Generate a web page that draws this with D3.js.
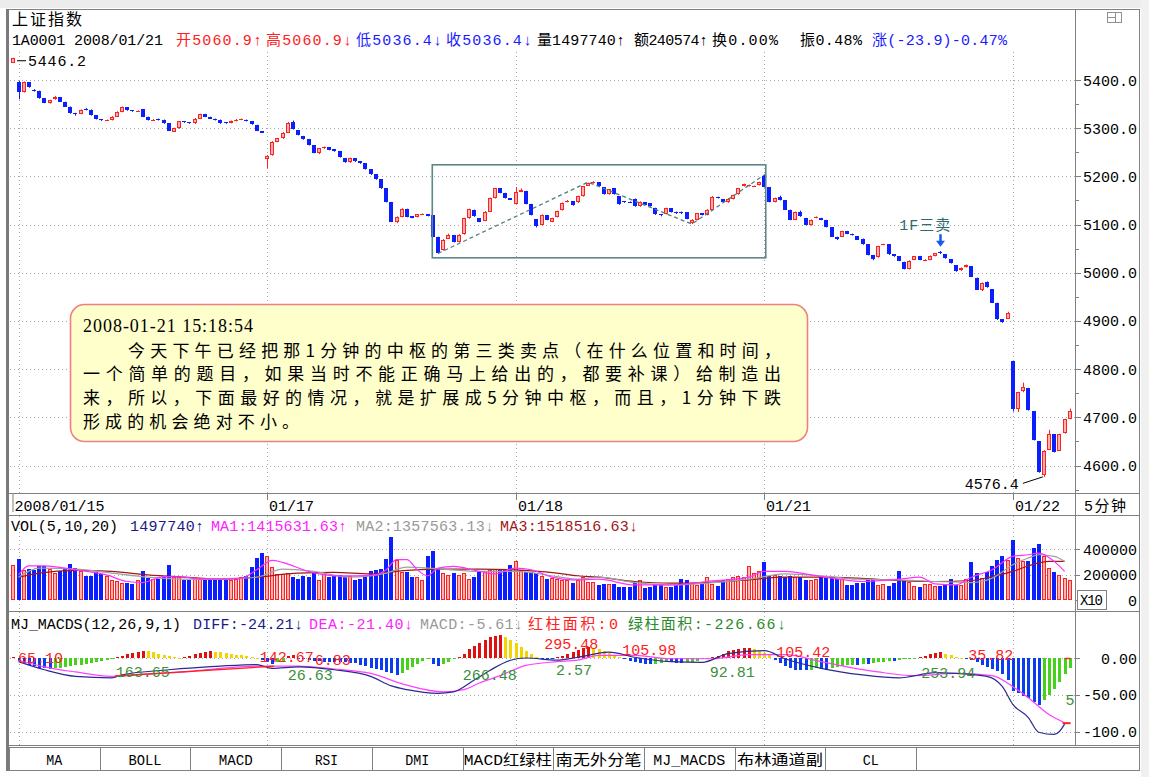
<!DOCTYPE html>
<html>
<head>
<meta charset="utf-8">
<script src="https://cdn.jsdelivr.net/npm/d3@7/dist/d3.min.js"></script>
<style>
html,body{margin:0;padding:0;background:#fff;}
svg{display:block;}
</style>
</head>
<body>
<svg id="chart" width="1149" height="777"></svg>
<script>
// ===================== DATA =====================
const dayLabels = ["2008/01/15","01/17","01/18","01/21","01/22"];
const dayStart  = [0,48,96,144,192];

const open = [
5396,5375,5396,5380,5378,5362,5352,5360,5364,5355,
5345,5332,5330,5340,5338,5327,5319,5316,5317,5324,
5334,5344,5337,5335,5339,5324,5317,5320,5318,5310,
5293,5300,5314,5312,5310,5320,5330,5324,5320,5318,
5313,5311,5315,5318,5318,5315,5307,5294,5236,5244,
5272,5279,5291,5313,5296,5284,5277,5265,5249,5258,
5260,5256,5253,5238,5229,5238,5231,5227,5215,5204,
5194,5175,5147,5106,5116,5133,5117,5116,5121,5121,
5119,5075,5047,5071,5078,5064,5080,5113,5131,5113,
5108,5127,5155,5175,5166,5155,5143,5168,5170,5143,
5111,5099,5120,5106,5116,5130,5147,5148,5146,5159,
5181,5186,5188,5177,5163,5176,5159,5148,5147,5154,
5138,5146,5144,5135,5122,5122,5134,5127,5127,5126,
5103,5110,5124,5120,5130,5158,5153,5146,5153,5163,
5180,5180,5179,5182,5200,5177,5147,5158,5151,5131,
5110,5127,5114,5099,5114,5114,5110,5094,5075,5075,
5087,5081,5076,5071,5059,5037,5032,5058,5059,5038,
5034,5023,5008,5027,5035,5025,5027,5035,5044,5038,
5028,5016,5005,5012,5013,4990,4965,4980,4966,4938,
4903,4905,4816,4718,4754,4761,4713,4650,4580,4633,
4665,4631,4667,4697];
const high = [
5398,5397,5396,5381,5378,5362,5359,5367,5364,5355,
5345,5332,5339,5342,5339,5327,5319,5318,5325,5335,
5345,5344,5337,5337,5339,5324,5319,5320,5318,5310,
5301,5315,5314,5312,5321,5330,5330,5324,5320,5318,
5313,5316,5319,5320,5318,5315,5307,5294,5244,5273,
5280,5292,5313,5316,5296,5284,5277,5265,5259,5262,
5260,5256,5253,5238,5239,5238,5231,5227,5215,5204,
5194,5175,5147,5117,5134,5133,5118,5122,5123,5121,
5119,5075,5070,5081,5078,5080,5114,5133,5131,5113,
5128,5156,5176,5175,5166,5155,5178,5175,5170,5143,
5111,5121,5120,5114,5129,5146,5151,5148,5160,5180,
5187,5190,5188,5177,5174,5176,5159,5148,5148,5154,
5148,5146,5144,5135,5122,5135,5134,5127,5127,5126,
5111,5124,5124,5132,5159,5158,5153,5155,5162,5176,
5185,5183,5181,5189,5204,5177,5156,5160,5151,5131,
5127,5129,5114,5111,5117,5114,5110,5094,5075,5087,
5087,5081,5076,5071,5059,5037,5056,5060,5059,5038,
5034,5023,5026,5035,5035,5028,5036,5041,5045,5038,
5028,5016,5011,5017,5013,4990,4980,4982,4966,4938,
4903,4919,4816,4753,4772,4761,4713,4650,4632,4674,
4665,4666,4697,4718];
const low = [
5360,5374,5384,5376,5361,5352,5351,5359,5355,5344,
5330,5326,5329,5337,5326,5318,5315,5315,5316,5323,
5333,5336,5334,5334,5323,5316,5316,5316,5309,5294,
5292,5299,5311,5309,5309,5319,5323,5319,5316,5309,
5309,5310,5314,5317,5314,5307,5294,5290,5217,5243,
5271,5278,5290,5297,5285,5276,5264,5248,5246,5257,
5254,5251,5239,5228,5228,5230,5226,5214,5203,5193,
5174,5146,5105,5103,5115,5115,5113,5115,5120,5117,
5074,5039,5046,5070,5063,5063,5079,5112,5116,5105,
5107,5126,5154,5165,5154,5151,5142,5167,5142,5119,
5094,5098,5109,5105,5115,5129,5146,5139,5145,5158,
5180,5185,5179,5162,5162,5162,5141,5145,5145,5137,
5137,5140,5137,5120,5117,5121,5125,5122,5122,5111,
5101,5109,5119,5119,5129,5154,5145,5145,5152,5162,
5179,5179,5178,5181,5177,5146,5146,5150,5130,5109,
5109,5116,5098,5098,5113,5109,5094,5074,5068,5074,
5080,5077,5068,5058,5036,5026,5031,5057,5037,5033,
5024,5007,5007,5026,5026,5024,5026,5034,5039,5029,
5019,5002,5004,5011,4991,4964,4962,4969,4937,4902,
4896,4904,4712,4711,4752,4714,4652,4585,4576.4,4632,
4627,4630,4666,4696];
const close = [
5375,5396,5385,5377,5362,5353,5358,5365,5355,5345,
5331,5330,5338,5338,5327,5319,5316,5317,5324,5334,
5344,5337,5335,5336,5324,5317,5318,5317,5310,5295,
5300,5314,5312,5310,5320,5329,5324,5320,5317,5310,
5310,5315,5318,5319,5315,5308,5295,5291,5242,5272,
5279,5291,5311,5298,5286,5277,5265,5249,5258,5261,
5255,5252,5240,5229,5238,5231,5227,5215,5204,5194,
5175,5147,5106,5116,5133,5116,5114,5121,5122,5118,
5075,5040,5069,5078,5064,5079,5113,5132,5117,5106,
5127,5155,5175,5166,5155,5152,5168,5172,5143,5120,
5096,5120,5110,5113,5128,5145,5149,5140,5159,5179,
5186,5188,5180,5163,5173,5163,5142,5146,5146,5138,
5147,5141,5138,5121,5119,5134,5126,5123,5123,5112,
5110,5123,5120,5131,5158,5155,5146,5154,5161,5175,
5184,5182,5180,5188,5178,5147,5155,5151,5131,5110,
5126,5117,5099,5110,5116,5110,5095,5075,5071,5086,
5081,5078,5069,5059,5037,5028,5055,5059,5038,5034,
5025,5008,5025,5034,5027,5027,5035,5040,5040,5030,
5020,5003,5010,5016,4992,4965,4979,4970,4938,4903,
4898,4917,4718,4752,4763,4715,4653,4586,4631,4665,
4628,4665,4696,4713];

// volume in thousands (axis shows raw, X10)
const volume = [
324,237,245,232,268,263,242,211,224,250,
284,250,224,190,192,216,205,190,158,150,
137,132,124,158,224,171,163,163,179,276,
184,179,153,153,171,163,153,153,153,153,
153,153,163,184,190,258,329,368,347,258,
205,205,211,179,163,190,179,211,153,205,
184,190,197,190,190,153,163,190,224,237,
242,324,492,311,216,216,179,179,158,342,
387,250,211,197,211,197,211,163,184,216,
229,237,242,242,242,276,308,237,216,216,
211,190,163,171,163,158,158,132,158,179,
145,145,118,124,126,126,105,100,105,130,
158,92,100,126,124,100,100,118,163,153,
130,118,126,179,126,110,153,163,179,190,
184,263,211,230,295,190,197,190,179,190,
179,179,158,153,165,179,171,179,163,163,
118,118,132,137,153,158,118,126,110,132,
224,158,140,110,105,126,126,110,110,118,
163,118,118,163,295,211,171,220,263,311,
342,311,468,329,303,303,408,442,342,250,
216,197,171,160];

// bar just before the first full day (only partly visible)
const prevOpen = 5436, prevClose = 5446.2, prevVolume = 276, prevMacd = 1;

// volume moving averages (sampled points: bar index / value in thousands)
const ma1K = [0,2,5,11,17,21,24,28,32,36,43,46,49,51,56,61,65,69,71,73,75,77,79,81,84,89,92,96,99,103,107,112,119,126,133,141,144,148,155,163,170,174,177,181,184,188,192,195,197,200,202];
const ma1V = [197,268,268,237,197,145,137,184,179,163,171,237,311,295,224,190,190,197,237,316,316,237,190,250,263,224,205,250,237,179,158,163,118,118,145,179,224,224,184,145,163,179,126,118,179,237,342,355,368,303,224];
const ma2K = [0,4,11,18,25,32,39,46,51,57,64,71,75,82,89,96,104,108,112,119,126,133,141,148,155,162,170,177,184,188,192,195,197,200,202];
const ma2V = [179,250,242,211,179,163,163,179,242,224,179,211,258,242,224,224,184,163,179,137,118,132,163,205,190,163,158,145,137,171,276,329,355,342,303];
const ma3K = [0,4,11,18,25,32,39,46,54,61,68,75,82,89,96,104,108,112,119,126,133,141,148,155,162,170,177,184,188,192,195,199,202];
const ma3V = [179,211,232,224,197,179,163,179,211,216,205,232,242,242,237,211,190,179,145,132,137,158,179,179,171,153,145,153,184,224,268,303,303];

// MJ_MACDS histogram
const macdHist = [
-4,-7,-9,-11,-13,-14,-15,-14,-13,-12,
-11,-10,-9,-8,-7,-6,-4.5,-3,-1.5,1,
3,5,7,8.5,9.5,9,7.5,6,4.5,3,
1.5,0.5,1.5,3,5,7,8.5,9,8.5,7.5,
6.5,5.5,4.5,3.5,2.5,1.5,0.5,-3,-6,-8,
-6,-3.5,3,3.8,-1,-2,-3,-4,-4.5,-5,
-5,-5.5,-6,-6,-6.5,-7,-9,-11,-13,-15,
-17,-19,-21,-23,-20,-16,-12,-8,-4,-2,
-8,-11,-8,-5,-2,2,6,12,16,20,
25,28,30,31,28,24,20,15,10,5,
2,-0.5,-1,-1,1,3,5,8,11,13,
15,14,12,10,7,4,2,-2,-4,-6,
-7,-8,-8,-7.5,-7,-6,-6,-7,-7,-6,
-5,-3.5,-2,-1,1,3,6,9,11,12,
13,13,12,10,7,4,-3,-7,-11,-14,
-16,-17,-17,-16,-14,-15,-16,-14,-12,-11,
-10,-9,-9,-8,-8,-7,-6,-5,-4,-4,
-3,-2,-1.5,-0.5,1,3,5,7,7.5,6,
4,2,0.5,-1,-3,-6,-9,-12,-15,-18,
-22,-30,-45,-48,-52,-55,-60,-64,-57,-50,
-42,-32,-22,-14];
const diffK = [0,5,11,18,20,29,39,46,49,54,61,68,72,75,81,84,88,91,95,98,104,108,114,119,126,132,137,144,148,155,163,170,177,181,187,190,192,195,197,200,201,202];
const diffV = [-5,-16,-25,-27,-23,-16,-11,-9,-14,-12,-16,-25,-38,-43,-48,-46,-30,-17,-3,0,-3,1,8,1,-5,-6,6,10,-1,-14,-23,-27,-20,-21,-25,-39,-63,-81,-101,-104,-100,-90];
const deaK = [0,5,11,18,25,32,39,46,54,61,68,75,82,86,89,93,98,104,108,112,119,126,134,141,148,155,160,166,173,181,188,192,195,199,202];
const deaV = [-3,-12,-19,-25,-22,-19,-14,-11,-11,-15,-21,-37,-46,-43,-34,-24,-10,-5,-3,3.5,3.5,-1,-1,4.5,4.5,-5,-12,-19,-24,-21,-24,-39,-54,-77,-88];
const redLineK = [18.6,49.3], redLineV = [-24.5,-11.2];

// MACD area labels
const areaText  = ["65.10","163.65","142.67","6.83","26.63","266.48","295.48","2.57","105.98","92.81","105.42","253.94","35.82","5"];
const areaK     = [-0.1,18.8,46.6,57.2,52,85.8,101.5,103.8,116.6,133.5,146.3,174.3,183.4,202.2];
const areaV     = [0.7,-19,1.4,-1.4,-23,-23,20.4,-16.3,12.2,-19,9.5,-20.4,5.4,-55.8];
const areaIsRed = [1,0,1,1,0,0,1,0,1,0,1,0,1,0];

// stroke (笔) points in the box
const strokeK = [81,110,130,144];
const strokeP = [5040,5188,5101,5203];
const boxK = [79.9,144.3], boxP = [5031,5224];

const priceTicks = [4600,4700,4800,4900,5000,5100,5200,5300,5400];
const volTicks = [0,200,400], volTickLabels = ["0","200000","400000"];
const macdTicks = [0,-50,-100], macdTickLabels = ["0.00","-50.00","-100.0"];
const tabLabels = ["MA","BOLL","MACD","RSI","DMI","MACD红绿柱","南无外分笔","MJ_MACDS","布林通道副","CL"];

// ===================== DRAWING =====================
const MONO = "'Liberation Mono','DejaVu Sans Mono',monospace";
const MIX  = "'Liberation Mono','Noto Sans CJK SC',monospace";
const CJK  = "'Noto Sans CJK SC','Liberation Mono',sans-serif";
const RED = "#ff2020", PINK = "#ffb0b0", BLUE = "#0a1eff", FRAME = "#808080";

const svg = d3.select('#chart');
const x  = d3.scaleLinear().domain([0,192]).range([18.5,1012.8]);
const yP = d3.scaleLinear().domain([4600,5400]).range([465.5,80]);
const yV = d3.scaleLinear().domain([0,400]).range([600,549]);
const yM = d3.scaleLinear().domain([-100,0]).range([731.5,658]);
const xr = i => Math.round(x(i));
const idx = d3.range(open.length);

function txt(g, s, px, py, o = {}) {
  const t = g.append('text').attr('x', px).attr('y', py).text(s)
    .attr('font-family', o.ff || MONO).attr('font-size', o.fs || 15)
    .attr('fill', o.c || '#000');
  if (o.w) t.attr('textLength', o.w).attr('lengthAdjust', o.adj || 'spacing');
  if (o.anchor) t.attr('text-anchor', o.anchor);
  if (o.fw) t.attr('font-weight', o.fw);
  return t;
}
function line(g, x1, y1, x2, y2, c, w = 1, dash = null) {
  const l = g.append('line').attr('x1', x1).attr('y1', y1).attr('x2', x2).attr('y2', y2)
    .attr('stroke', c).attr('stroke-width', w);
  if (dash) l.attr('stroke-dasharray', dash);
  return l;
}

// background
svg.append('rect').attr('width',1149).attr('height',777).attr('fill','#fff');
svg.append('rect').attr('x',0).attr('y',0).attr('width',1149).attr('height',8).attr('fill','#ececec');
svg.append('rect').attr('x',1141).attr('y',0).attr('width',8).attr('height',777).attr('fill','#f0f0f0');

const defs = svg.append('defs');
defs.append('clipPath').attr('id','cpP').append('rect').attr('x',10).attr('y',10).attr('width',1065).attr('height',483);
defs.append('clipPath').attr('id','cpV').append('rect').attr('x',10).attr('y',516).attr('width',1065).attr('height',95);
defs.append('clipPath').attr('id','cpM').append('rect').attr('x',10).attr('y',612).attr('width',1065).attr('height',133);

// ---------- grid ----------
const gGrid = svg.append('g');
const DOT = '1,3', GC = '#a8a8a8';
priceTicks.forEach(t => { const yy = Math.round(yP(t)) + 0.5; line(gGrid, 10, yy, 1075, yy, GC, 1, DOT); });
volTicks.slice(1).forEach(t => { const yy = Math.round(yV(t)) + 0.5; line(gGrid, 10, yy, 1075, yy, GC, 1, DOT); });
macdTicks.forEach(t => { const yy = Math.round(yM(t)) + 0.5; line(gGrid, 10, yy, 1075, yy, GC, 1, DOT); });
dayStart.forEach(k => {
  const xx = xr(k) + 0.5;
  line(gGrid, xx, 52, xx, 493, GC, 1, DOT);
  line(gGrid, xx, 516, xx, 611, GC, 1, DOT);
  line(gGrid, xx, 612, xx, 746, GC, 1, DOT);
});

// ---------- candles ----------
const gC = svg.append('g').attr('clip-path','url(#cpP)');
function candle(g, xi, o, h, l, c) {
  const u = c >= o, col = u ? RED : BLUE, cx = Math.round(x(xi));
  line(g, cx + 0.5, yP(h), cx + 0.5, yP(l), col, 1);
  const yt = Math.round(yP(Math.max(o, c))), yb = Math.round(yP(Math.min(o, c)));
  if (u && yb - yt >= 2) {
    g.append('rect').attr('x', cx - 1.5).attr('y', yt + 0.5).attr('width', 3).attr('height', yb - yt - 1)
      .attr('fill', PINK).attr('stroke', col).attr('stroke-width', 1);
  } else {
    g.append('rect').attr('x', cx - 2).attr('y', yt).attr('width', 4).attr('height', Math.max(1, yb - yt))
      .attr('fill', col).attr('shape-rendering','crispEdges');
  }
}
candle(gC, -1, prevOpen, prevClose, prevOpen, prevClose);
idx.forEach(i => candle(gC, i, open[i], high[i], low[i], close[i]));

// box + strokes
const gA = svg.append('g');
gA.append('rect').attr('x', x(boxK[0])).attr('y', yP(boxP[1]))
  .attr('width', x(boxK[1]) - x(boxK[0])).attr('height', yP(boxP[0]) - yP(boxP[1]))
  .attr('fill','none').attr('stroke','#5e8888').attr('stroke-width',1.6);
gA.append('path').datum(strokeK.map((k, j) => [k, strokeP[j]]))
  .attr('d', d3.line().x(d => x(d[0])).y(d => yP(d[1])))
  .attr('fill','none').attr('stroke','#4f7f7f').attr('stroke-width',1.3).attr('stroke-dasharray','4,3');

// 1F三卖 annotation
txt(gA, "1F三卖", x(178) + 10, yP(5100) + 5.5, {ff: MIX, fs: 15, c: '#2e6b6b', anchor: 'end', w: 51});
{
  const ax = xr(178) + 0.5, y0 = yP(5080), y1 = yP(5056);
  line(gA, ax, y0, ax, y1 - 4, '#1a5ae8', 2.5);
  gA.append('path').attr('d', `M${ax-4.5},${y1-5} L${ax+4.5},${y1-5} L${ax},${y1+1} Z`).attr('fill','#1a5ae8');
}
// low label
line(gA, x(198) - 21, yP(4576.4) + 6.5, x(198) - 1, yP(4576.4), '#000', 1);
txt(gA, "4576.4", x(198) - 25, yP(4576.4) + 12, {anchor: 'end'});
// max label
line(gA, 17, yP(prevClose) + 3, 26, yP(prevClose) + 3, '#000', 1);
txt(gA, "5446.2", 28, yP(prevClose) + 8, {w: 58});

// ---------- note box ----------
const gN = svg.append('g');
gN.append('rect').attr('x',70.5).attr('y',304.5).attr('width',737).attr('height',137).attr('rx',14).attr('ry',14)
  .attr('fill','#ffffcc').attr('stroke','#f08080').attr('stroke-width',1.6);
txt(gN, "2008-01-21 15:18:54", 83, 332, {ff: "'Liberation Serif','DejaVu Serif',serif", fs: 18, w: 170});
const noteLines = [
  ["今天下午已经把那1分钟的中枢的第三类卖点（在什么位置和时间，", 128, 357, 653],
  ["一个简单的题目，如果当时不能正确马上给出的，都要补课）给制造出", 83, 380, 698],
  ["来，所以，下面最好的情况，就是扩展成5分钟中枢，而且，1分钟下跌", 83, 404, 698],
  ["形成的机会绝对不小。", 83, 428, 216]
];
noteLines.forEach(d => txt(gN, d[0], d[1], d[2], {ff: CJK, fs: 17, w: d[3]}));

// ---------- volume ----------
const gVb = svg.append('g').attr('clip-path','url(#cpV)');
function vbar(g, xi, v, u) {
  const cx = Math.round(x(xi)), yt = Math.round(yV(v)), yb = Math.round(yV(0));
  if (u) g.append('rect').attr('x', cx - 1.5).attr('y', yt + 0.5).attr('width', 3).attr('height', yb - yt - 1)
          .attr('fill', PINK).attr('stroke', RED).attr('stroke-width', 1);
  else g.append('rect').attr('x', cx - 2).attr('y', yt).attr('width', 4).attr('height', yb - yt)
          .attr('fill', BLUE).attr('shape-rendering','crispEdges');
}
vbar(gVb, -1, prevVolume, true);
idx.forEach(i => vbar(gVb, i, volume[i], close[i] >= open[i]));
const vLine = d3.line().x(d => x(d[0])).y(d => yV(d[1])).curve(d3.curveMonotoneX);
[[ma3K, ma3V, '#a01818'], [ma2K, ma2V, '#a0a0a0'], [ma1K, ma1V, '#ff30ff']].forEach(s => {
  gVb.append('path').datum(s[0].map((k, j) => [k, s[1][j]])).attr('d', vLine)
    .attr('fill','none').attr('stroke', s[2]).attr('stroke-width', 1.2);
});

// ---------- MACD ----------
const gMb = svg.append('g').attr('clip-path','url(#cpM)');
function mcol(v, p) { return v >= 0 ? (v >= p ? '#e01010' : '#f2d400') : (v <= p ? '#0a3cf0' : '#46d21a'); }
function mbar(xi, v, p) {
  const cx = Math.round(x(xi)), y0 = Math.round(yM(0)), y1 = Math.round(yM(v));
  gMb.append('rect').attr('x', cx - 1).attr('y', Math.min(y0, y1)).attr('width', 3)
    .attr('height', Math.max(1, Math.abs(y1 - y0))).attr('fill', mcol(v, p)).attr('shape-rendering','crispEdges');
}
mbar(-1, prevMacd, 0);
idx.forEach(i => mbar(i, macdHist[i], i > 0 ? macdHist[i - 1] : prevMacd));
const mLine = d3.line().x(d => x(d[0])).y(d => yM(d[1])).curve(d3.curveMonotoneX);
gMb.append('path').datum(deaK.map((k, j) => [k, deaV[j]])).attr('d', mLine)
  .attr('fill','none').attr('stroke','#ff40ff').attr('stroke-width',1.2);
gMb.append('path').datum(diffK.map((k, j) => [k, diffV[j]])).attr('d', mLine)
  .attr('fill','none').attr('stroke','#2a2a90').attr('stroke-width',1.2);
gMb.append('path').datum(redLineK.map((k, j) => [k, redLineV[j]]))
  .attr('d', d3.line().x(d => x(d[0])).y(d => yM(d[1])))
  .attr('fill','none').attr('stroke','#ff2020').attr('stroke-width',1.3);
areaText.forEach((s, j) => txt(gMb, s, x(areaK[j]), yM(areaV[j]) + 5.5, {c: areaIsRed[j] ? '#ff2020' : '#3b8f3b'}));
line(gMb, x(202) - 2, yM(-88) + 0.5, x(202) + 6, yM(-88) + 0.5, '#ff2020', 2);
line(gMb, x(202), yM(0) + 0.5, x(202) + 6, yM(0) + 0.5, '#ff2020', 1.5);

// ---------- frame ----------
const gF = svg.append('g');
[9.5, 493.5, 515.5, 611.5, 745.5, 747.5, 770.5].forEach(yy => line(gF, 8, yy, 1140, yy, FRAME, 1));
line(gF, 1075.5, 9, 1075.5, 746, FRAME, 1);
line(gF, 1139.5, 9, 1139.5, 771, FRAME, 1);
gF.append('rect').attr('x',6).attr('y',9).attr('width',3).attr('height',762).attr('fill','#7a7a7a');
// icon top-right
gF.append('rect').attr('x',1107.5).attr('y',12.5).attr('width',14).attr('height',10).attr('fill','none').attr('stroke','#909090');
line(gF, 1115.5, 12.5, 1115.5, 22.5, '#909090', 1);
line(gF, 1107.5, 17.5, 1115.5, 17.5, '#909090', 1);

// right axis ticks & labels
for (let v = 4550; v <= 5450; v += 50) {
  const yy = Math.round(yP(v)) + 0.5; if (yy < 70 || yy > 492) continue;
  line(gF, 1075, yy, v % 100 === 0 ? 1081 : 1079, yy, FRAME, 1);
}
priceTicks.forEach(t => txt(gF, t.toFixed(1), 1137, yP(t) + 5.5, {anchor: 'end'}));
volTicks.forEach((t, j) => { line(gF, 1075, Math.round(yV(t)) + 0.5, 1080, Math.round(yV(t)) + 0.5, FRAME, 1);
  txt(gF, volTickLabels[j], 1137, yV(t) + 5.5, {anchor: 'end'}); });
macdTicks.forEach((t, j) => { line(gF, 1075, Math.round(yM(t)) + 0.5, 1080, Math.round(yM(t)) + 0.5, FRAME, 1);
  txt(gF, macdTickLabels[j], 1137, yM(t) + 5.5, {anchor: 'end'}); });
gF.append('rect').attr('x',1077.5).attr('y',590.5).attr('width',29).attr('height',19).attr('fill','#fff').attr('stroke',FRAME);
txt(gF, "X10", 1080, 605, {fs: 14, w: 23});

// date row
dayStart.forEach((k, j) => {
  const xx = j === 0 ? 13 : xr(k) + 0.5;
  line(gF, xx, 494, xx, j === 0 ? 512 : 500, FRAME, 1);
  txt(gF, dayLabels[j], xx + 1.5, 511, {w: dayLabels[j].length * 9});
});
txt(gF, "5分钟", 1084, 511, {ff: MIX, w: 42});

// ---------- headers ----------
const gH = svg.append('g');
txt(gH, "上证指数", 12, 25, {ff: CJK, fs: 16, w: 70});
const hdr = [
  ["1A0001 2008/01/21", 12, 151, "#000"],
  ["开5060.9↑", 176, 86, "#ff2020"],
  ["高5060.9↓", 266, 86, "#ff2020"],
  ["低5036.4↓", 356, 86, "#1a1aff"],
  ["收5036.4↓", 446, 86, "#1a1aff"],
  ["量1497740↑", 537, 88, "#000"],
  ["额240574↑", 634, 74, "#000"],
  ["换0.00%", 712, 66, "#000"],
  ["振0.48%", 800, 62, "#000"],
  ["涨(-23.9)-0.47%", 872, 135, "#1a1aff"]
];
hdr.forEach(d => txt(gH, d[0], d[1], 45, {ff: MIX, w: d[2], c: d[3]}));

const vh = [
  ["VOL(5,10,20)", 11, 107, "#000"],
  ["1497740↑", 130, 74, "#1a1a8a"],
  ["MA1:1415631.63↑", 211, 136, "#ff20ff"],
  ["MA2:1357563.13↓", 356, 138, "#999999"],
  ["MA3:1518516.63↓", 500, 138, "#a01818"]
];
vh.forEach(d => txt(gH, d[0], d[1], 531, {ff: MIX, w: d[2], c: d[3]}));

const mh = [
  ["MJ_MACDS(12,26,9,1)", 11, 170, "#000"],
  ["DIFF:-24.21↓", 193, 110, "#1a1a8a"],
  ["DEA:-21.40↓", 309, 104, "#ff20ff"],
  ["MACD:-5.61↓", 420, 103, "#999999"],
  ["红柱面积:0", 528, 90, "#ff2020"],
  ["绿柱面积:-226.66↓", 628, 158, "#2a8a2a"]
];
mh.forEach(d => txt(gH, d[0], d[1], 629, {ff: MIX, w: d[2], c: d[3]}));

// ---------- tabs ----------
const gT = svg.append('g');
const tabW = 90.7, tabX0 = 9;
const tabTextW = [16, 33, 34, 23, 24, 88, 86, 72, 86, 16];
for (let j = 0; j <= tabLabels.length; j++) {
  const xx = Math.round(tabX0 + j * tabW) + 0.5;
  line(gT, xx, 747, xx, 771, FRAME, 1);
}
tabLabels.forEach((s, j) => {
  txt(gT, s, tabX0 + (j + 0.5) * tabW, 765, {ff: MIX, fs: 15, anchor: 'middle', w: tabTextW[j], adj: 'spacingAndGlyphs'});
});
</script>
</body>
</html>
